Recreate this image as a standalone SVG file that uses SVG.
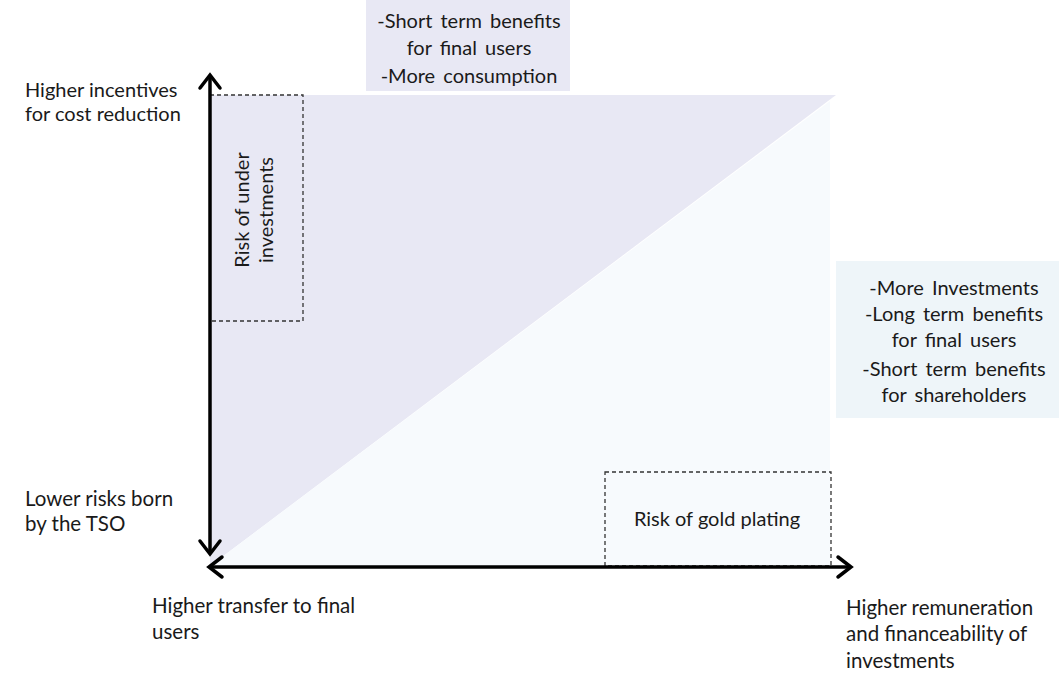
<svg xmlns="http://www.w3.org/2000/svg" width="1059" height="674" viewBox="0 0 1059 674">
<style>
.t{font-family:Lato,"Open Sans","Liberation Sans",sans-serif;font-size:20px;fill:#1a1a1a}
.c{text-anchor:middle}
.b{word-spacing:3px}
.a{font-size:20.5px}
.dash{fill:none;stroke:#333;stroke-width:1.3;stroke-dasharray:4,3}
.ax{stroke:#000;stroke-width:3.5;fill:none}
.hd{stroke:#000;stroke-width:3.5;fill:none;stroke-linecap:round;stroke-linejoin:miter}
</style>
<rect width="1059" height="674" fill="#fff"/>
<g id="regions">
<polygon points="210,95 836,95 210,566" fill="#E8E8F4"/>
<polygon points="210,566 830,101 830,566" fill="#F7FAFD"/>
</g>
<g id="top-box">
<rect x="366" y="0" width="204" height="91" fill="#E8E8F4"/>
<text class="t c b" x="469" y="28">-Short term benefits</text>
<text class="t c b" x="469" y="55">for final users</text>
<text class="t c b" x="469" y="83">-More consumption</text>
</g>
<g id="right-box">
<rect x="836" y="261" width="223" height="157" fill="#EEF5F9"/>
<text class="t c b" x="954" y="295">-More Investments</text>
<text class="t c b" x="954" y="321">-Long term benefits</text>
<text class="t c b" x="954" y="347">for final users</text>
<text class="t c b" x="954" y="376">-Short term benefits</text>
<text class="t c b" x="954" y="402">for shareholders</text>
</g>
<g id="under-invest">
<rect class="dash" x="210" y="95" width="93" height="226"/>
<text class="t c" font-size="18" transform="translate(249,210) rotate(-90)">Risk of under</text>
<text class="t c" font-size="18" transform="translate(273,210) rotate(-90)">investments</text>
</g>
<g id="gold-plating">
<rect class="dash" x="605" y="472" width="226" height="94"/>
<text class="t c" font-size="18" x="717" y="526">Risk of gold plating</text>
</g>
<g id="connectors">
<line class="ax" x1="210" y1="76" x2="210" y2="553"/>
<polyline class="hd" points="200,88 210,75 220,88"/>
<polyline class="hd" points="200,541 210,554 220,541"/>
<line class="ax" x1="211" y1="567" x2="849" y2="567"/>
<polyline class="hd" points="222,557 209,567 222,577"/>
<polyline class="hd" points="838,557 851,567 838,577"/>
</g>
<g id="axis-labels">
<text class="t" font-size="18.5" x="25" y="97">Higher incentives</text>
<text class="t" font-size="18.5" x="25" y="121">for cost reduction</text>
<text class="t a" x="25" y="506">Lower risks born</text>
<text class="t a" x="25" y="531">by the TSO</text>
<text class="t a" x="152" y="613">Higher transfer to final</text>
<text class="t a" x="152" y="639">users</text>
<text class="t a" x="846" y="615">Higher remuneration</text>
<text class="t a" x="846" y="641">and financeability of</text>
<text class="t a" x="846" y="668">investments</text>
</g>
</svg>
